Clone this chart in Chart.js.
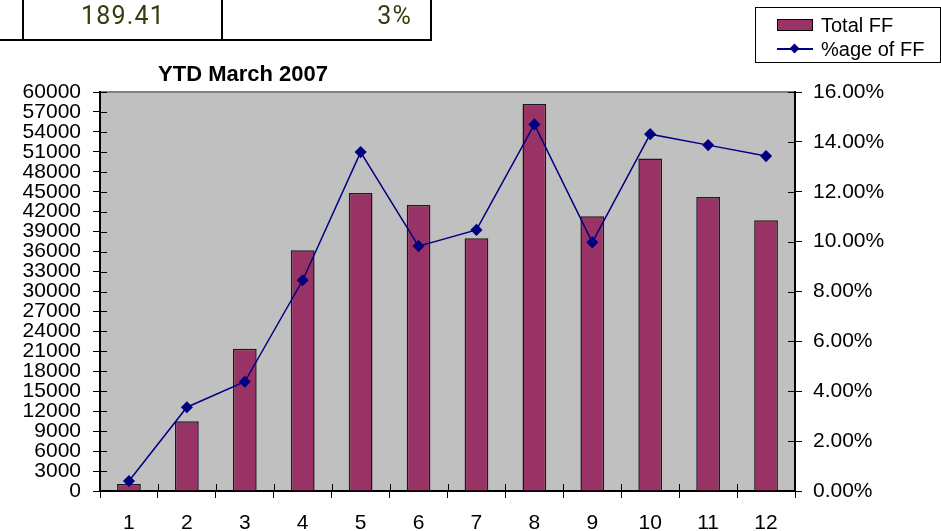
<!DOCTYPE html>
<html>
<head>
<meta charset="utf-8">
<script src="https://cdn.jsdelivr.net/npm/chart.js@4"></script>
<style>
  body { margin: 0; background: #fff; font-family: 'Liberation Sans', Arial, sans-serif; }
  #wrap { position: relative; width: 941px; height: 531px; overflow: hidden; }
  #c { position: absolute; left: 0; top: 0; }
  .tbl { position: absolute; left: 0; top: -2px; width: 432px; height: 41px; border-bottom: 2px solid #000; }
  .tbl .cell { position: absolute; top: 0; height: 41px; border-left: 2px solid #000; box-sizing: border-box; color: #3a3a0e; font-family: Roboto, sans-serif; font-size: 25px; line-height: 36px; letter-spacing: 1.2px; }
  .title { position: absolute; left: 123px; width: 240px; top: 61px; text-align: center; font-weight: bold; font-size: 22px; }
  .legend { position: absolute; left: 755px; top: 7px; width: 186px; height: 56px; border: 1px solid #000; box-sizing: border-box; font-size: 20px; }
  .legend .row { position: absolute; left: 21px; height: 22px; line-height: 22px; white-space: nowrap; }
  .sw { display: inline-block; width: 36px; height: 12px; background: #993366; border: 1px solid #000; vertical-align: middle; margin-right: 8px; box-sizing: border-box; position: relative; top: -2px; }
  .ln { display: inline-block; width: 36px; height: 2px; background: #000080; vertical-align: middle; margin-right: 8px; position: relative; top: -2px; }
  .ln::after { content: ''; position: absolute; left: 14px; top: -3px; width: 7px; height: 7px; background: #000080; transform: rotate(45deg); }
</style>
</head>
<body>
<div id="wrap">
  <canvas id="c" width="941" height="531"></canvas>
  <div class="tbl">
    <div class="cell" style="left:22px;width:200px;text-align:center;">189.41</div>
    <div class="cell" style="left:221px;width:211px;border-right:2px solid #000;text-align:right;padding-right:18px;">3%</div>
  </div>
  <div class="title">YTD March 2007</div>
  <div class="legend">
    <div class="row" style="top:6px;"><span class="sw"></span>Total FF</div>
    <div class="row" style="top:30px;"><span class="ln"></span>%age of FF</div>
  </div>
</div>
<script>
const months = ['1', '2', '3', '4', '5', '6', '7', '8', '9', '10', '11', '12'];
const totalFF = [1050, 10500, 21400, 36200, 44800, 43000, 38000, 58200, 41300, 50000, 44200, 40700];
const pctFF = [0.40, 3.36, 4.38, 8.45, 13.59, 9.82, 10.47, 14.70, 9.97, 14.31, 13.87, 13.43];

const tickFont = { family: "'Liberation Sans', Arial, sans-serif", size: 21 };

// gray plot area, gray top border, inward halves of tick marks
const plotArea = {
  id: 'plotArea',
  beforeDraw(chart) {
    const { ctx, chartArea: a } = chart;
    ctx.save();
    ctx.fillStyle = '#c0c0c0';
    ctx.fillRect(a.left, a.top, a.right - a.left, a.bottom - a.top);
    ctx.strokeStyle = '#808080';
    ctx.lineWidth = 2;
    ctx.beginPath();
    ctx.moveTo(a.left, a.top);
    ctx.lineTo(a.right, a.top);
    ctx.stroke();
    ctx.restore();
  },
  afterDatasetsDraw(chart) {
    const { ctx, chartArea: a, scales } = chart;
    ctx.save();
    ctx.strokeStyle = '#000';
    ctx.lineWidth = 1;
    ctx.beginPath();
    scales.y.ticks.forEach(t => {
      const py = Math.round(scales.y.getPixelForValue(t.value)) + 0.5;
      ctx.moveTo(a.left, py); ctx.lineTo(a.left + 7, py);
    });
    scales.y1.ticks.forEach(t => {
      const py = Math.round(scales.y1.getPixelForValue(t.value)) + 0.5;
      ctx.moveTo(a.right - 7, py); ctx.lineTo(a.right, py);
    });
    for (let i = 1; i < months.length; i++) {
      const px = Math.round((scales.x.getPixelForValue(i) + scales.x.getPixelForValue(i - 1)) / 2) + 0.5;
      ctx.moveTo(px, a.bottom - 7); ctx.lineTo(px, a.bottom);
    }
    ctx.stroke();
    ctx.restore();
  }
};

new Chart(document.getElementById('c'), {
  data: {
    labels: months,
    datasets: [
      {
        type: 'line',
        label: '%age of FF',
        data: pctFF,
        yAxisID: 'y1',
        borderColor: '#000080',
        backgroundColor: '#000080',
        borderWidth: 1.5,
        pointStyle: 'rectRot',
        pointRadius: 5,
        tension: 0,
        order: 0
      },
      {
        type: 'bar',
        label: 'Total FF',
        data: totalFF,
        yAxisID: 'y',
        backgroundColor: '#993366',
        borderColor: '#1a1a1a',
        borderWidth: 1.5,
        categoryPercentage: 1,
        barPercentage: 0.41,
        order: 1
      }
    ]
  },
  options: {
    responsive: false,
    animation: false,
    layout: { padding: { top: 92, left: 0, right: 0, bottom: 0 } },
    plugins: { legend: { display: false }, tooltip: { enabled: false } },
    scales: {
      x: {
        grid: { drawOnChartArea: false, tickLength: 7, color: '#000' },
        border: { color: '#000', width: 2 },
        ticks: { color: '#000', font: tickFont, padding: 13, maxRotation: 0 },
        afterFit: s => { s.height = 40; }
      },
      y: {
        position: 'left',
        min: 0,
        max: 60000,
        grid: { drawOnChartArea: false, tickLength: 7, color: '#000' },
        border: { color: '#000', width: 2 },
        ticks: { stepSize: 3000, color: '#000', font: tickFont, padding: 12, autoSkip: false, callback: v => String(v) },
        afterFit: s => { s.width = 100; }
      },
      y1: {
        position: 'right',
        min: 0,
        max: 16,
        grid: { drawOnChartArea: false, tickLength: 7, color: '#000' },
        border: { color: '#000', width: 2 },
        ticks: { stepSize: 2, color: '#000', font: tickFont, padding: 11, callback: v => v.toFixed(2) + '%' },
        afterFit: s => { s.width = 146; }
      }
    }
  },
  plugins: [plotArea]
});
</script>
</body>
</html>
